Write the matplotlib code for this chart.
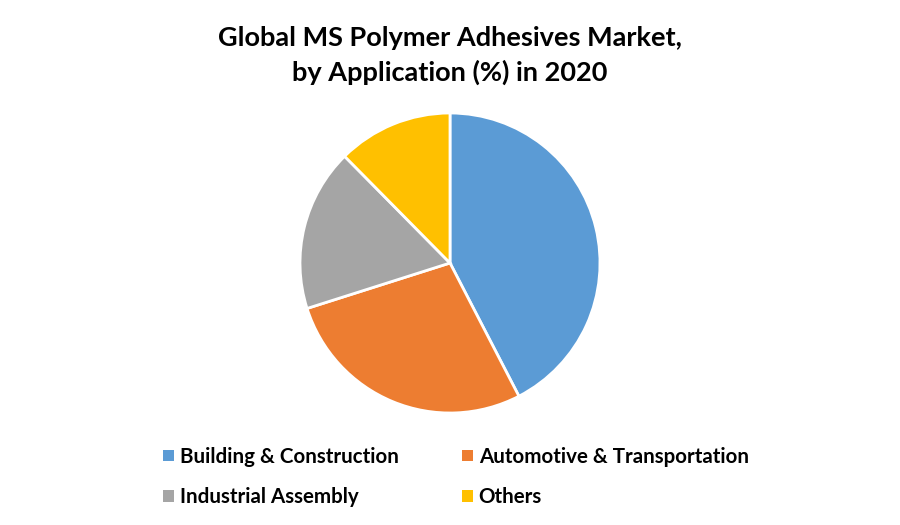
import matplotlib.pyplot as plt
from matplotlib.patches import Patch

# market share by application, 2020
labels = ["Building & Construction", "Automotive & Transportation",
          "Industrial Assembly", "Others"]
shares = [42.4, 27.7, 17.5, 12.4]
colors = ["#5B9BD5", "#ED7D31", "#A5A5A5", "#FFC000"]

plt.rcParams['font.family'] = ['Lato', 'DejaVu Sans']

fig = plt.figure(figsize=(9, 5.25), dpi=100)
ax = fig.add_axes([300/900, 112/525, 300/900, 300/525])
ax.pie(shares, colors=colors, startangle=90, counterclock=False, radius=1,
       wedgeprops=dict(edgecolor="white", linewidth=2))
ax.set_xlim(-1, 1)
ax.set_ylim(-1, 1)
ax.set_aspect('equal')

fig.text(0.5, 1 - 38/525, "Global MS Polymer Adhesives Market,", ha="center",
         va="center", fontsize=19.5, fontweight="bold")
fig.text(0.5, 1 - 72/525, "by Application (%) in 2020", ha="center",
         va="center", fontsize=19.5, fontweight="bold")

# legend fills column by column, so reorder to read row by row
order = [0, 2, 1, 3]
handles = [Patch(facecolor=colors[i], edgecolor="none") for i in order]
fig.legend(handles, [labels[i] for i in order], ncol=2, loc="center",
           bbox_to_anchor=(0.5 + 6/900, 1 - 477/525), frameon=False,
           prop=dict(weight="bold", size=14.8),
           handlelength=0.5, handleheight=0.5, handletextpad=0.3,
           columnspacing=3.1, labelspacing=1.0)

fig.savefig("out.png", dpi=100)
